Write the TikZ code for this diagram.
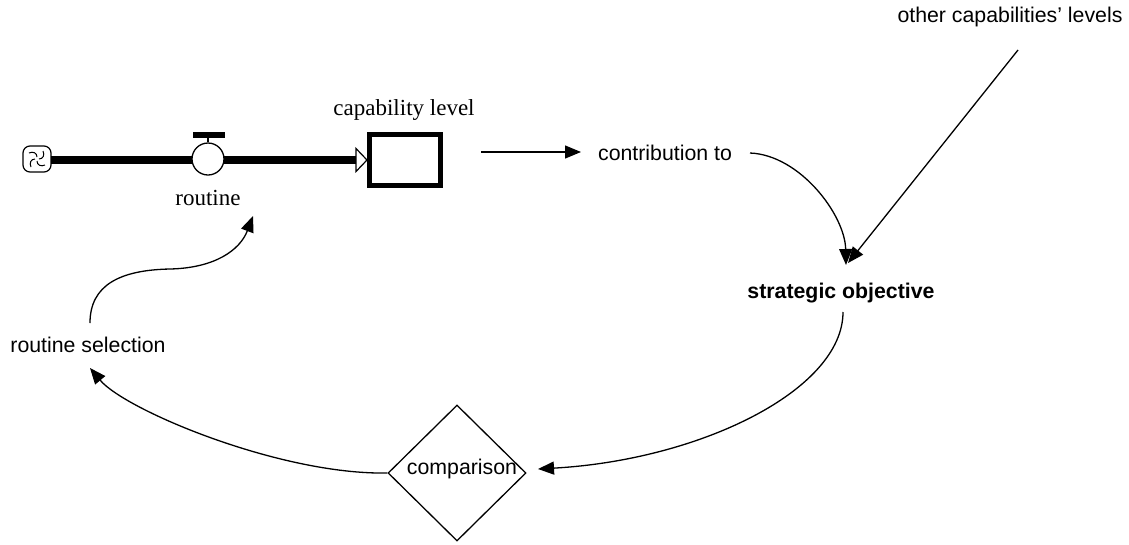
\documentclass[tikz,border=0pt]{standalone}
\usepackage{fontspec}
\setsansfont{Liberation Sans}
\setmainfont{Liberation Serif}
\usetikzlibrary{arrows.meta,shapes.geometric,calc}
\begin{document}
\begin{tikzpicture}[x=1pt,y=-1pt,
  lab/.style={font=\fontsize{21.3}{25}\selectfont\sffamily, inner sep=0pt},
  serl/.style={font=\fontsize{23}{27}\selectfont\rmfamily, inner sep=0pt},
  link/.style={line width=1.3pt, -{Triangle[length=16pt,width=13pt]}},
  pipe/.style={line width=8.5pt},
]
\useasboundingbox (0,0) rectangle (1129,544);
% cloud (source)
\coordinate (cloud) at (37,159);
\draw[line width=1.2pt, rounded corners=7pt] (23,146) rectangle (51,172);
\foreach \a in {0,90,180,270}
  \draw[line width=1pt, rotate around={\a:(cloud)}] ($(cloud)+(2,0)$) .. controls +(4,0) and +(2,4) .. ++(4,-8);
\coordinate (cloudE) at (51,160);
\coordinate (pipeEnd) at (357,160);
\draw[pipe] (cloudE) -- (pipeEnd);
\draw[line width=1.2pt, fill=white, line join=miter] (356,148.5) -- (367,160) -- (356,171.5) -- cycle;
% valve
\node[circle, draw, fill=white, line width=1.3pt, minimum size=32pt, inner sep=0] (valve) at (208,159) {};
\fill (193,132) rectangle (225,137.5);
\draw[line width=2pt] (208,137) -- (valve.north);
% stock
\node[draw, line width=5pt, minimum width=71pt, minimum height=51pt, inner sep=0] (stock) at (405,160) {};
% labels
\node[lab] (other) at (1010,17) {other capabilities' levels};
\node[serl] (caplab) at (404,110) {capability level};
\node[serl] (routine) at (208,198) {routine};
\node[lab] (contrib) at (665,153) {contribution to};
\node[lab, font=\fontsize{21.3}{25}\selectfont\sffamily\bfseries] (obj) at (841,293) {strategic objective};
\node[lab] (rsel) at (88,345) {routine selection};
\node[diamond, draw, line width=1.3pt, minimum width=138pt, minimum height=136pt, inner sep=0] (cmp) at (457,473) {};
\node[lab] (cmptxt) at (462,469) {comparison};
% connectors
\coordinate (a1s) at (481,152);
\coordinate (a1e) at (581,152);
\draw[link] (a1s) -- (a1e);
\coordinate (c1s) at (750,153);
\coordinate (objtip) at (846,265);
\draw[link] (c1s) .. controls (800,155) and (845,215) .. (objtip);
\coordinate (otherS) at (1018,50);
\coordinate (objtip2) at (848,263);
\draw[link] (otherS) -- (objtip2);
\coordinate (objS) at (843,312);
\coordinate (cmpE) at (538,469);
\draw[link] (objS) .. controls (843,390) and (700,460) .. (cmpE);
\coordinate (rselS) at (90,368);
\draw[link] (cmp.west) .. controls (280,475) and (125,410) .. (rselS);
\coordinate (rselN) at (90,323);
\coordinate (routS) at (253,216);
\draw[link] (rselN) .. controls (90,285) and (120,270) .. (170,269) .. controls (215,268) and (240,250) .. (routS);
\end{tikzpicture}
\end{document}
